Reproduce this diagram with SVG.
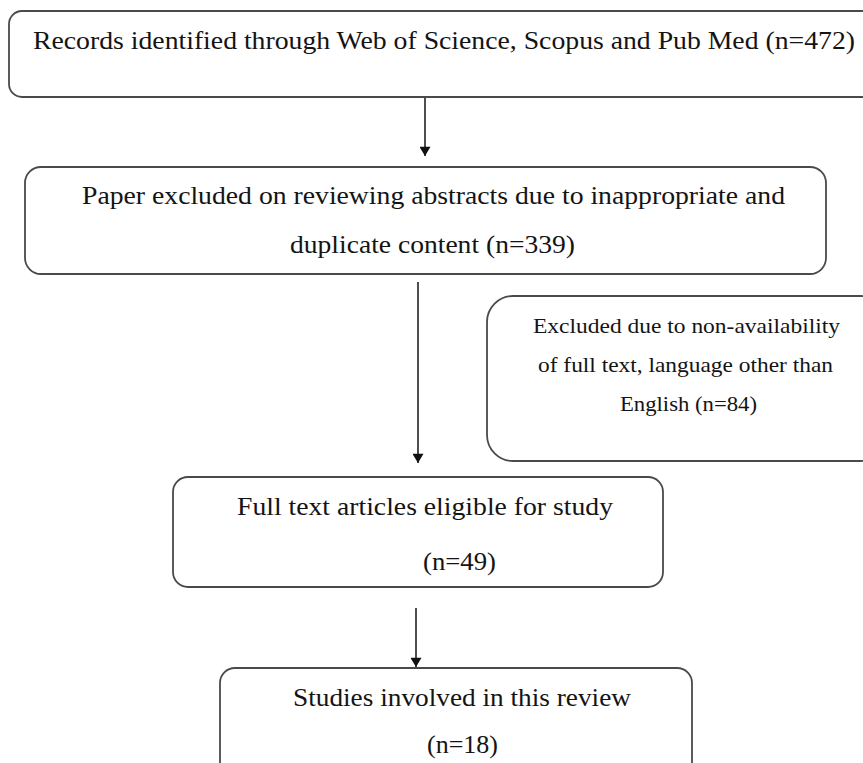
<svg xmlns="http://www.w3.org/2000/svg" width="863" height="763" viewBox="0 0 863 763">
<defs>
<style>
.box{fill:#ffffff;stroke:#4a4a4a;stroke-width:1.8}
.t{font-family:"Liberation Serif","Times New Roman",serif;fill:#141414}
.l{font-size:26px}
.s{font-size:21px}
.c{stroke:#222;stroke-width:1.6;fill:none}
</style>
<marker id="ah" viewBox="0 0 10 12" refX="10" refY="6" markerWidth="12" markerHeight="11" markerUnits="userSpaceOnUse" orient="auto">
<path d="M0,0 L10,6 L0,12 z" fill="#111"/>
</marker>
</defs>
<rect width="863" height="763" fill="#ffffff"/>
<g id="connectors">
<line class="c" x1="425" y1="97" x2="425" y2="156" marker-end="url(#ah)"/>
<line class="c" x1="418" y1="282" x2="418" y2="463" marker-end="url(#ah)"/>
<line class="c" x1="416" y1="608" x2="416" y2="667" marker-end="url(#ah)"/>
</g>
<g id="node-records">
<rect class="box" x="9" y="11" width="880" height="86" rx="13"/>
<text class="t l" x="33" y="49" textLength="822" lengthAdjust="spacingAndGlyphs">Records identified through Web of Science, Scopus and Pub Med (n=472)</text>
</g>
<g id="node-excluded-abstracts">
<rect class="box" x="25" y="167" width="801" height="107" rx="16"/>
<text class="t l" x="82" y="204" textLength="703" lengthAdjust="spacingAndGlyphs">Paper excluded on reviewing abstracts due to inappropriate and</text>
<text class="t l" x="290" y="253" textLength="285" lengthAdjust="spacingAndGlyphs">duplicate content (n=339)</text>
</g>
<g id="node-excluded-fulltext">
<rect class="box" x="487" y="296" width="400" height="165" rx="26"/>
<text class="t s" x="533" y="333" textLength="307" lengthAdjust="spacingAndGlyphs">Excluded due to non-availability</text>
<text class="t s" x="538" y="372" textLength="295" lengthAdjust="spacingAndGlyphs">of full text, language other than</text>
<text class="t s" x="620" y="411" textLength="137" lengthAdjust="spacingAndGlyphs">English (n=84)</text>
</g>
<g id="node-eligible">
<rect class="box" x="173" y="477" width="490" height="110" rx="15"/>
<text class="t l" x="237" y="515" textLength="376" lengthAdjust="spacingAndGlyphs">Full text articles eligible  for study</text>
<text class="t l" x="423" y="570" textLength="73" lengthAdjust="spacingAndGlyphs">(n=49)</text>
</g>
<g id="node-included">
<rect class="box" x="220" y="668" width="472" height="110" rx="15"/>
<text class="t l" x="293" y="706" textLength="338" lengthAdjust="spacingAndGlyphs">Studies involved in this review</text>
<text class="t l" x="427" y="753" textLength="71" lengthAdjust="spacingAndGlyphs">(n=18)</text>
</g>
</svg>
